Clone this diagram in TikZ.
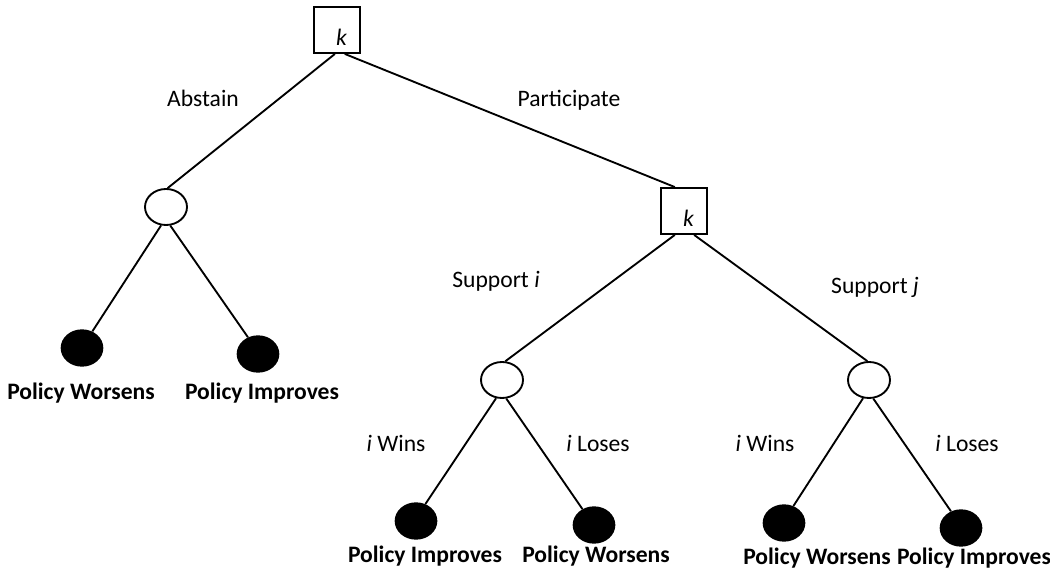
\documentclass[tikz,border=0pt]{standalone}
\usepackage{fontspec}
\setmainfont{Carlito}
\usetikzlibrary{shapes.geometric}

\tikzset{
  decision/.style={draw, line width=1.4pt, minimum size=34.5pt, inner sep=0pt,
    label={[xshift=3.5pt,yshift=-5.5pt]center:\textit{k}}},
  chance/.style={draw, ellipse, line width=1.4pt, minimum width=31.5pt,
    minimum height=27pt, inner sep=0pt},
  outcome/.style={fill=black, ellipse, minimum width=32pt, minimum height=28pt,
    inner sep=0pt},
  branch/.style={line width=1.4pt},
  lbl/.style={anchor=base, inner sep=0pt},
  res/.style={anchor=base, inner sep=0pt, font=\fontsize{17.7}{21}\selectfont\bfseries},
}

\begin{document}
\begin{tikzpicture}[x=0.75pt, y=-0.75pt, font=\fontsize{17.7}{21}\selectfont]

      \useasboundingbox (0,0) rectangle (1050,573);

      % Nodos de decision y azar
      \node[decision] (k1) at (337,30) {};
      \node[decision] (k2) at (684,211) {};
      \node[chance] (abst) at (166,207) {};
      \node[chance] (supi) at (502,380) {};
      \node[chance] (supj) at (869,380) {};

      % Resultados
      \node[outcome] (aw) at (82,348) {};
      \node[outcome] (ai) at (258,354) {};
      \node[outcome] (iwi) at (416,521) {};
      \node[outcome] (ilw) at (594,525) {};
      \node[outcome] (jww) at (784,523) {};
      \node[outcome] (jli) at (961,528) {};

      % Ramas
      \draw[branch] (k1.-95) -- (abst.85);
      \draw[branch] (k1.-72) -- (k2.111);
      \draw[branch] (abst.-105) -- (aw.58);
      \draw[branch] (abst.-77) -- (ai.121);
      \draw[branch] (k2.-111) -- (supi.80);
      \draw[branch] (k2.-67) -- (supj.95);
      \draw[branch] (supi.-108) -- (iwi.61);
      \draw[branch] (supi.-77) -- (ilw.126);
      \draw[branch] (supj.-108) -- (jww.61);
      \draw[branch] (supj.-77) -- (jli.121);

      % Etiquetas de ramas
      \node[lbl] (tabst) at (203,107) {Abstain};
      \node[lbl] (tpart) at (569,107) {Participate};
      \node[lbl] (tsupi) at (496,288) {Support \textit{i}};
      \node[lbl] (tsupj) at (875,294) {Support \textit{j}};
      \node[lbl] (twin1) at (396,452) {\textit{i} Wins};
      \node[lbl] (tlos1) at (598,452) {\textit{i} Loses};
      \node[lbl] (twin2) at (765,452) {\textit{i} Wins};
      \node[lbl] (tlos2) at (967,452) {\textit{i} Loses};

      % Etiquetas de resultados
      \node[res] (law) at (81,400) {Policy Worsens};
      \node[res] (lai) at (262,400) {Policy Improves};
      \node[res] (liwi) at (425,562) {Policy Improves};
      \node[res] (lilw) at (596,562) {Policy Worsens};
      \node[res] (ljww) at (817,564) {Policy Worsens};
      \node[res] (ljli) at (974,564) {Policy Improves};

\end{tikzpicture}
\end{document}
